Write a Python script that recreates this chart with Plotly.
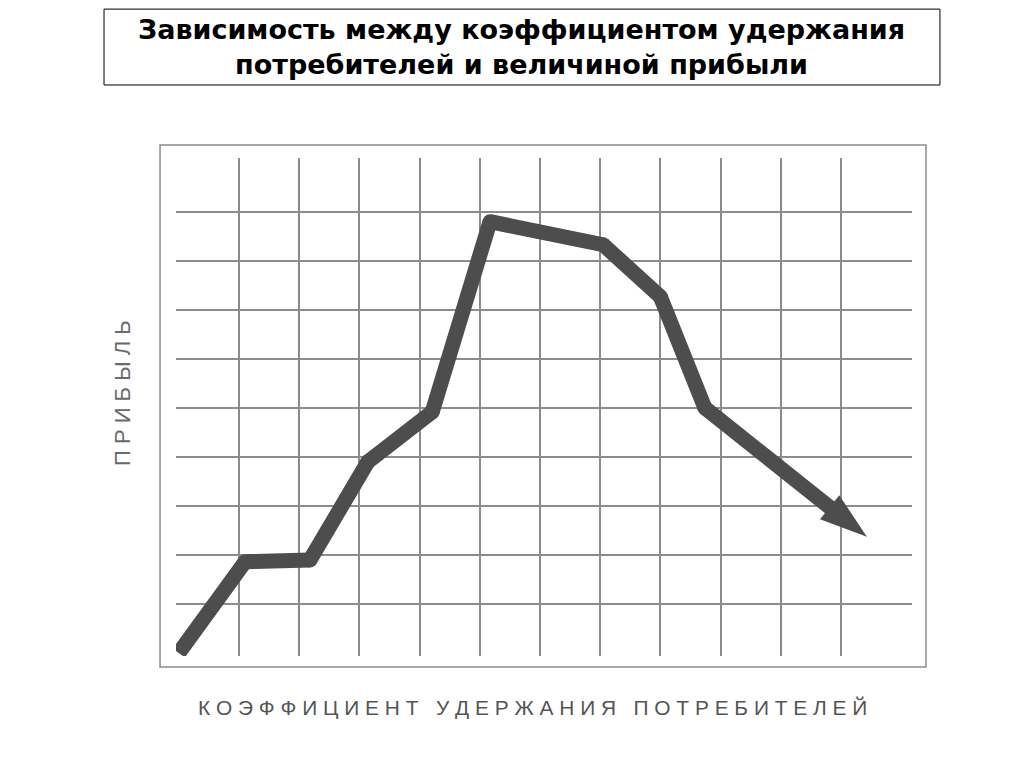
import plotly.graph_objects as go

# retention rate (grid units) vs profit (grid units)
retention = [0.0, 1.1, 2.18, 3.14, 4.21, 5.17, 7.05, 8.0, 8.74, 11.43]
profit = [0.0, 1.86, 1.9, 3.9, 4.92, 8.8, 8.33, 7.27, 5.0, 2.37]

x_grid = list(range(1, 12))
y_grid = list(range(1, 10))

title_text = "Зависимость между коэффициентом удержания<br>потребителей и величиной прибыли"
x_title = "КОЭФФИЦИЕНТ УДЕРЖАНИЯ ПОТРЕБИТЕЛЕЙ"
y_title = "ПРИБЫЛЬ"


def spaced(s, gap="\u00a0", word_gap="\u00a0\u00a0\u00a0"):
    return word_gap.join(gap.join(w) for w in s.split(" "))


fig = go.Figure()

# thick line; round dots fill the joints, arrowhead on the last point
n = len(retention)
symbols = ["circle"] * (n - 1) + ["arrow"]
sizes = [0] + [15] * (n - 2) + [50]
fig.add_trace(go.Scatter(
    x=retention, y=profit, mode="lines+markers",
    line=dict(color="#4d4d4d", width=15),
    marker=dict(symbol=symbols, size=sizes, angleref="previous", color="#4d4d4d",
                opacity=1, line=dict(width=0)),
    hoverinfo="skip", showlegend=False,
))

fig.update_xaxes(range=[-0.0465, 12.18], tickvals=x_grid, showticklabels=False,
                 showgrid=True, gridcolor="#8c8c8c", gridwidth=1.5,
                 zeroline=False, showline=False, ticks="")
fig.update_yaxes(range=[-0.061, 10.10], tickvals=y_grid, showticklabels=False,
                 showgrid=True, gridcolor="#8c8c8c", gridwidth=1.5,
                 zeroline=False, showline=False, ticks="")

# outer frame of the chart and the title box
fig.add_shape(type="rect", xref="paper", yref="paper",
              x0=-0.0217, x1=1.019, y0=-0.0221, y1=1.026,
              line=dict(color="#8a8a8a", width=1.5), layer="below")
fig.add_shape(type="rect", xref="paper", yref="paper",
              x0=-0.0978, x1=1.038, y0=1.1466, y1=1.299,
              line=dict(color="#000000", width=1))

fig.add_annotation(text="<b>" + title_text + "</b>", xref="paper", yref="paper",
                   x=0.470, y=1.223, xanchor="center", yanchor="middle", showarrow=False,
                   font=dict(family="DejaVu Sans", size=27, color="#000000"))
fig.add_annotation(text=spaced(x_title), xref="paper", yref="paper",
                   x=0.485, y=-0.1044, xanchor="center", yanchor="middle", showarrow=False,
                   font=dict(family="Liberation Sans, Arial", size=20.9, color="#555555"))
fig.add_annotation(text=" ".join(y_title), xref="paper", yref="paper",
                   x=-0.0734, y=0.528, xanchor="center", yanchor="middle",
                   showarrow=False, textangle=-90,
                   font=dict(family="Liberation Sans, Arial", size=22, color="#6a6a6a"))

fig.update_layout(
    width=1024, height=768,
    margin=dict(l=168, r=120, t=150, b=120),
    paper_bgcolor="white", plot_bgcolor="white",
)

fig.write_html("out.html")
